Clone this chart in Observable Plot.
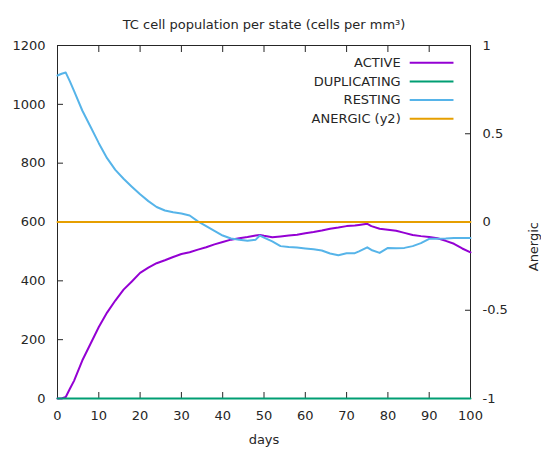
<!DOCTYPE html>
<html><head><meta charset="utf-8">
<script src="https://cdn.jsdelivr.net/npm/d3@7"></script>
<script src="https://cdn.jsdelivr.net/npm/@observablehq/plot@0.6"></script>
<style>body{margin:0;background:#fff}</style>
</head><body><div id="chart"></div>
<script>
const title = "TC cell population per state (cells per mm³)";
const xLabel = "days";
const y2Label = "Anergic";
const seriesNames = ["ACTIVE", "DUPLICATING", "RESTING", "ANERGIC (y2)"];
const seriesColors = ["#9400d3", "#009e73", "#56b4e9", "#e69f00"];
const xTicks = [0, 10, 20, 30, 40, 50, 60, 70, 80, 90, 100];
const yTicks = [0, 200, 400, 600, 800, 1000, 1200];
const y2Ticks = [-1, -0.5, 0, 0.5, 1];
const yDomain = [0, 1200];
const y2Domain = [-1, 1];

const days     = [0, 1, 2, 3, 4, 6, 8, 10, 12, 14, 16, 18, 20, 22, 24, 26, 28, 30, 32, 34, 36, 38, 40, 42, 44, 46, 48, 49, 50, 52, 54, 56, 58, 60, 62, 64, 66, 68, 70, 72, 73, 75, 76, 78, 80, 82, 84, 86, 88, 90, 92, 94, 96, 98, 100];
const active   = [0, 0, 5, 33, 60, 129, 186, 243, 292, 333, 370, 398, 427, 445, 460, 470, 481, 491, 497, 506, 514, 524, 532, 540, 545, 549, 554, 556, 553, 548, 551, 554, 557, 562, 566, 571, 577, 581, 586, 588, 590, 594, 586, 577, 574, 570, 563, 556, 552, 549, 545, 536, 526, 510, 497];
const resting  = [1098, 1104, 1108, 1078, 1046, 979, 924, 868, 817, 777, 747, 720, 694, 671, 651, 639, 633, 629, 622, 602, 586, 570, 554, 544, 540, 536, 540, 554, 547, 534, 518, 515, 513, 510, 507, 503, 493, 487, 494, 494, 500, 514, 505, 495, 512, 511, 512, 518, 528, 543, 543, 544, 546, 546, 546];
const dupDays = [0, 100];
const duplicating = [0, 0];
const anergicDays = [0, 100];
const anergic = [0, 0];

// map a y2 value onto the y1 scale
const toY = v => yDomain[0] + (v - y2Domain[0]) / (y2Domain[1] - y2Domain[0]) * (yDomain[1] - yDomain[0]);
const fromY = d => y2Domain[0] + (d - yDomain[0]) / (yDomain[1] - yDomain[0]) * (y2Domain[1] - y2Domain[0]);

const seriesData = [
  days.map((d, i) => ({day: d, value: active[i]})),
  dupDays.map((d, i) => ({day: d, value: duplicating[i]})),
  days.map((d, i) => ({day: d, value: resting[i]})),
  anergicDays.map((d, i) => ({day: d, value: toY(anergic[i])}))
];

const legendX = 83.1, legendX1 = 85.4, legendX2 = 96.0, legendTop = 1141, legendStep = 63.2;

const ink = "#262626";
const chart = Plot.plot({
  width: 541,
  height: 454,
  marginLeft: 57,
  marginRight: 71,
  marginTop: 45,
  marginBottom: 56,
  style: {fontFamily: "DejaVu Sans", fontSize: "13px", color: ink, background: "#fff"},
  x: {domain: [0, 100]},
  y: {domain: yDomain},
  marks: [
    Plot.axisX({ticks: xTicks, tickSize: -6, tickPadding: 18, tickFormat: d => String(d), label: null, stroke: ink}),
    Plot.axisX({anchor: "top", ticks: xTicks, tickSize: -6, tickFormat: () => "", label: null, stroke: ink}),
    Plot.axisY({ticks: yTicks, tickSize: -6, tickPadding: 18, tickFormat: d => String(d), label: null, stroke: ink}),
    Plot.axisY(y2Ticks.map(toY), {anchor: "right", tickSize: -6, tickPadding: 18, tickFormat: d => String(fromY(d)), label: null, stroke: ink}),
    Plot.frame({stroke: ink}),
    ...seriesData.map((data, i) => Plot.line(data, {x: "day", y: "value", stroke: seriesColors[i], strokeWidth: 2})),
    Plot.text(seriesNames, {x: () => legendX, y: (d, i) => legendTop - i * legendStep, text: d => d, textAnchor: "end", fill: ink}),
    ...seriesNames.map((n, i) => Plot.ruleY([legendTop - i * legendStep], {x1: () => legendX1, x2: () => legendX2, stroke: seriesColors[i], strokeWidth: 2})),
    Plot.text([title], {frameAnchor: "top", dy: -26, fill: ink}),
    Plot.text([xLabel], {frameAnchor: "bottom", dy: 45, fill: ink}),
    Plot.text([y2Label], {frameAnchor: "right", dx: 63, rotate: -90, fill: ink})
  ]
});
document.getElementById("chart").append(chart);
</script>
</body></html>
